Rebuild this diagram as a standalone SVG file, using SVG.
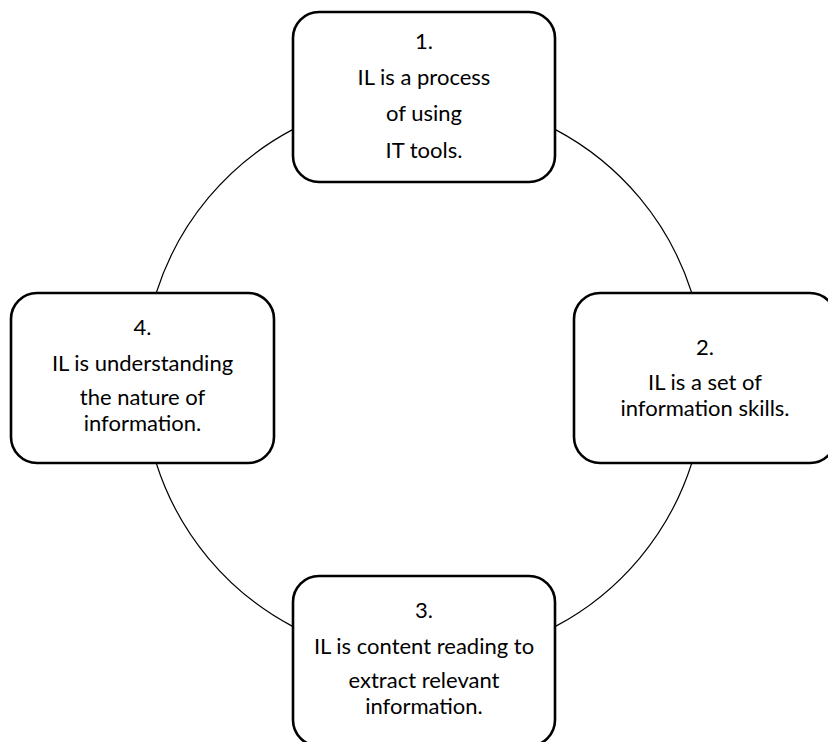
<svg xmlns="http://www.w3.org/2000/svg" width="828" height="742" viewBox="0 0 828 742">
  <style>
    .box { fill: #ffffff; stroke: #000000; stroke-width: 2.6; }
    .arc { fill: none; stroke: #000000; stroke-width: 1.2; }
    .label { font-family: "Lato", "Liberation Sans", sans-serif; font-size: 22px; fill: #000000; text-anchor: middle; }
  </style>
  <rect width="828" height="742" fill="#ffffff"/>

  <!-- circular cycle linking the four statements (centre 424,378; r 281) -->
  <g id="connectors">
    <path class="arc" d="M555,129.4 A281,281 0 0 1 691.8,293"/>
    <path class="arc" d="M691.8,463 A281,281 0 0 1 555,626.6"/>
    <path class="arc" d="M293,626.6 A281,281 0 0 1 156.2,463"/>
    <path class="arc" d="M156.2,293 A281,281 0 0 1 293,129.4"/>
  </g>

  <g id="node1">
    <rect class="box" x="293" y="12" width="262" height="170" rx="26" ry="26"/>
    <text class="label" x="424" y="49">1.</text>
    <text class="label" x="424" y="85">IL is a process</text>
    <text class="label" x="424" y="121">of using</text>
    <text class="label" x="424" y="158">IT tools.</text>
  </g>

  <g id="node2">
    <rect class="box" x="574" y="293" width="262" height="170" rx="26" ry="26"/>
    <text class="label" x="705" y="355">2.</text>
    <text class="label" x="705" y="390">IL is a set of</text>
    <text class="label" x="705" y="416">information skills.</text>
  </g>

  <g id="node3">
    <rect class="box" x="293" y="576" width="262" height="170" rx="26" ry="26"/>
    <text class="label" x="424" y="618">3.</text>
    <text class="label" x="424" y="654">IL is content reading to</text>
    <text class="label" x="424" y="688">extract relevant</text>
    <text class="label" x="424" y="714">information.</text>
  </g>

  <g id="node4">
    <rect class="box" x="11" y="293" width="263" height="170" rx="26" ry="26"/>
    <text class="label" x="142.5" y="335">4.</text>
    <text class="label" x="142.5" y="371">IL is understanding</text>
    <text class="label" x="142.5" y="405">the nature of</text>
    <text class="label" x="142.5" y="431">information.</text>
  </g>
</svg>
